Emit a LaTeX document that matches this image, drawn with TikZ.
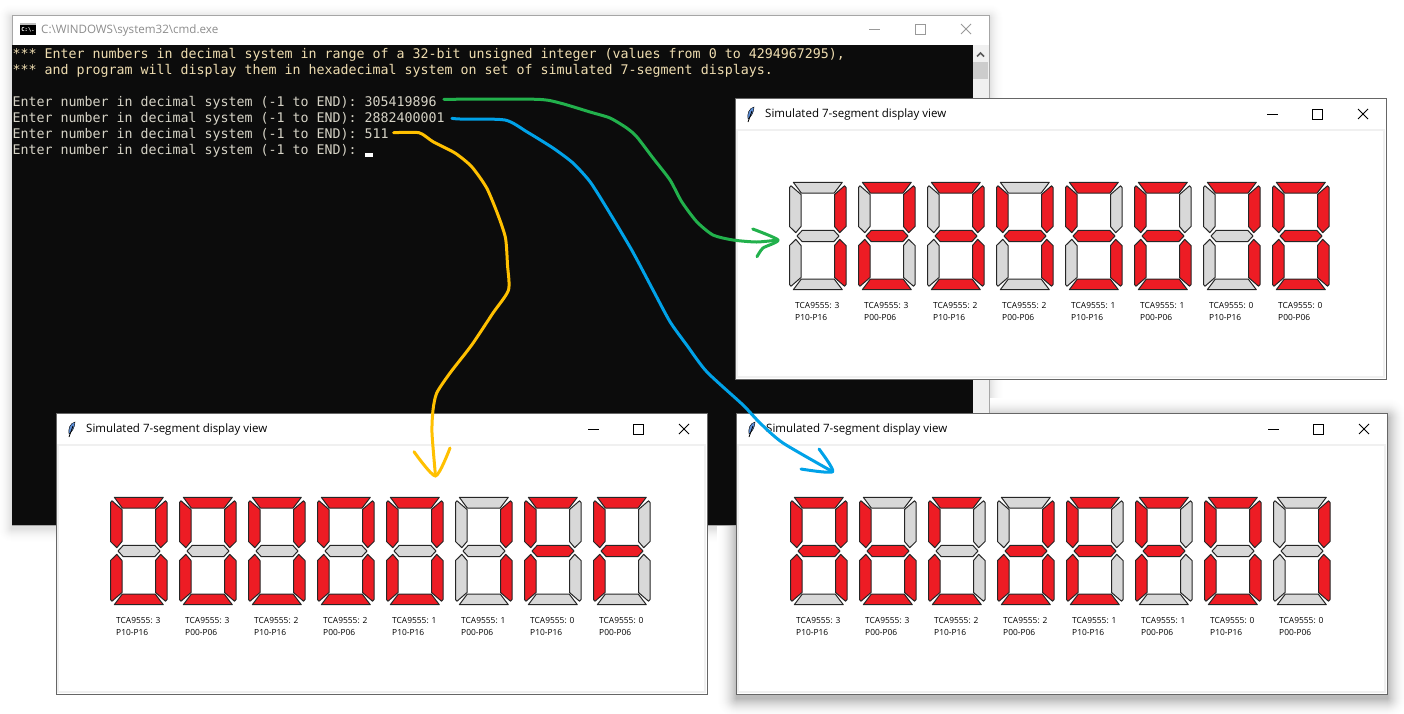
\documentclass[tikz,border=0pt]{standalone}
\usepackage{fontspec}
\setmainfont{Open Sans}
\newfontfamily\consolefont{DejaVu Sans Mono}
\usetikzlibrary{positioning}
\definecolor{segred}{HTML}{ED1C24}
\definecolor{seggrey}{HTML}{D8D8D8}
\definecolor{consoleblack}{HTML}{0C0C0C}
\definecolor{consoleamber}{HTML}{EFDDB0}
\definecolor{consolecream}{HTML}{D6D3C6}
\definecolor{penGreen}{HTML}{22B14C}
\definecolor{penBlue}{HTML}{00A2E8}
\definecolor{penYellow}{HTML}{FFC000}
\definecolor{feather}{HTML}{5B8DD6}
\tikzset{
  seg0/.style={draw=black!85, line width=1pt, line join=round, fill=seggrey},
  seg1/.style={draw=black!85, line width=1pt, line join=round, fill=segred},
  winbox/.style={draw=black!60, fill=white, line width=1pt, inner sep=0pt, anchor=north west},
  consoletext/.style={font=\consolefont\fontsize{13.29}{16}\selectfont, inner sep=0pt, anchor=base west},
  tinylabel/.style={font=\fontsize{8.4}{12}\selectfont, align=left, inner sep=0pt, anchor=north west},
  wintitle/.style={font=\fontsize{11.5}{14}\selectfont, inner sep=0pt, anchor=west},
  btn/.style={line width=1pt, draw=black},
  pen/.style={line width=3pt, line cap=round, line join=round},
}
% one digit, flags in order a b c d e f g
\newcommand{\segdigit}[7]{
  \path[seg#1] (4.3,0.3) -- (53.3,0.3) -- (45.2,11) -- (12.3,11) -- cycle;
  \path[seg#2] (57,5.5) -- (55.5,3.8) -- (45.5,12.5) -- (45.5,44.5) -- (50.7,50.7) -- (57,44.5) -- cycle;
  \path[seg#3] (57,102.5) -- (55.5,104.2) -- (45.5,95.5) -- (45.5,63.5) -- (50.7,57.3) -- (57,63.5) -- cycle;
  \path[seg#4] (4.3,107.7) -- (53.3,107.7) -- (45.2,97) -- (12.3,97) -- cycle;
  \path[seg#5] (0.5,102.5) -- (2,104.2) -- (12,95.5) -- (12,63.5) -- (6.8,57.3) -- (0.5,63.5) -- cycle;
  \path[seg#6] (0.5,5.5) -- (2,3.8) -- (12,12.5) -- (12,44.5) -- (6.8,50.7) -- (0.5,44.5) -- cycle;
  \path[seg#7] (8,54) -- (13.3,48.3) -- (44.7,48.3) -- (50,54) -- (44.7,59.7) -- (13.3,59.7) -- cycle;
}
\newcommand{\dZero}{\segdigit1111110}
\newcommand{\dOne}{\segdigit0110000}
\newcommand{\dTwo}{\segdigit1101101}
\newcommand{\dThree}{\segdigit1111001}
\newcommand{\dFour}{\segdigit0110011}
\newcommand{\dFive}{\segdigit1011011}
\newcommand{\dSix}{\segdigit1011111}
\newcommand{\dSeven}{\segdigit1110000}
\newcommand{\dEight}{\segdigit1111111}
\newcommand{\dA}{\segdigit1110111}
\newcommand{\dB}{\segdigit0011111}
\newcommand{\dC}{\segdigit1001110}
\newcommand{\dD}{\segdigit0111101}
\newcommand{\dE}{\segdigit1001111}
\newcommand{\dF}{\segdigit1000111}
% simulated display window: name, left, top, eight digits
\newcommand{\simwin}[3]{
  \begin{scope}[shift={(#2)}]
    \node[winbox, minimum width=650.5pt, minimum height=280.4pt] (#1win) at (-.8,-.8) {};
    \draw[draw=black!6, line width=2pt] (1,31) rectangle (648,278);
    \fill[feather, draw=black, line width=.4pt] (18,8) .. controls (13,9) and (11,15) .. (12,20) .. controls (15,18) and (18,13) .. (18,8) -- cycle;
    \draw[line width=.8pt] (16,12) -- (12,23);
    \node[wintitle] (#1title) at (29,16) {Simulated 7-segment display view};
    \draw[btn] (531,15) -- (542,15);
    \draw[btn] (576,10) rectangle (586,20);
    \draw[btn] (622,10) -- (632,20) (632,10) -- (622,20);
    \foreach \g/\chip/\port [count=\i from 0] in {#3}{
      \begin{scope}[shift={(53+69*\i,83)}]
        \g
      \end{scope}
      \node[tinylabel] (#1lab\i) at (59+69*\i,203) {TCA9555: \chip\\\port};
    }
  \end{scope}
}
\begin{document}
\begin{tikzpicture}[x=1pt,y=-1pt]
\useasboundingbox (0,0) rectangle (1404,713);
\fill[white] (0,0) rectangle (1404,713);

% soft shadows, outermost first
\foreach \r [evaluate=\r as \shade using 14*(1-\r/15)^2] in {14,...,1}
  \fill[black!\shade, rounded corners=\r pt] (12-\r,15-\r+3) rectangle (989+\r,525+\r+3);
\foreach \r [evaluate=\r as \shade using 30*(1-\r/21)^2] in {20,...,1}
  \fill[black!\shade, rounded corners=\r pt] (737-\r,414-\r+4) rectangle (1387+\r,694+\r+4);

% console window
\node[draw=black!35, fill=white, line width=1pt, inner sep=0pt, anchor=north west, minimum width=977pt, minimum height=510pt] (cmdwin) at (11.5,14.5) {};
\fill[consoleblack] (12,45) rectangle (973,525);
\fill[black!6] (973,45) rectangle (988.8,525);
\fill[black!20] (973,62) rectangle (988,79);
\draw[black!65, line width=1.6pt] (977,56.5) -- (980.5,53) -- (984,56.5);
\fill[black] (20,23) rectangle (36,35);
\fill[black!25] (20,23) rectangle (36,25);
\node[font=\consolefont\bfseries\fontsize{5.5}{6}\selectfont, text=white, inner sep=0pt] (cmdicon) at (28,30) {C:\textbackslash.};
\node[font=\fontsize{11.6}{14}\selectfont, text=black!45, inner sep=0pt, anchor=west] (cmdtitle) at (41,30) {C:\textbackslash WINDOWS\textbackslash system32\textbackslash cmd.exe};
\draw[black!40, line width=1pt] (869,29.5) -- (880,29.5);
\draw[black!40, line width=1pt] (915,24) rectangle (925,34);
\draw[black!40, line width=1pt] (961,24) -- (971,34) (971,24) -- (961,34);

\node[consoletext, text=consoleamber] (intro1) at (12.5,58) {*** Enter numbers in decimal system in range of a 32-bit unsigned integer (values from 0 to 4294967295),};
\node[consoletext, text=consoleamber] (intro2) at (12.5,74) {*** and program will display them in hexadecimal system on set of simulated 7-segment displays.};
\foreach \n/\yy in {1/106,2/122,3/138,4/154}
  \node[consoletext, text=consolecream] (ask\n) at (12.5,\yy) {Enter number in decimal system (-1 to END):};
\node[consoletext, text=consolecream] (valG) at (364.5,106) {305419896};
\node[consoletext, text=consolecream] (valB) at (364.5,122) {2882400001};
\node[consoletext, text=consolecream] (valY) at (364.5,138) {511};
\fill[white] (365,153) rectangle (373,156.7);

% display windows
\simwin{top}{736,99}{\dOne/3/P10-P16,\dTwo/3/P00-P06,\dThree/2/P10-P16,\dFour/2/P00-P06,\dFive/1/P10-P16,\dSix/1/P00-P06,\dSeven/0/P10-P16,\dEight/0/P00-P06}
\simwin{left}{57,414}{\dZero/3/P10-P16,\dZero/3/P00-P06,\dZero/2/P10-P16,\dZero/2/P00-P06,\dZero/1/P10-P16,\dOne/1/P00-P06,\dF/0/P10-P16,\dF/0/P00-P06}
\simwin{right}{737,414}{\dA/3/P10-P16,\dB/3/P00-P06,\dC/2/P10-P16,\dD/2/P00-P06,\dE/1/P10-P16,\dF/1/P00-P06,\dZero/0/P10-P16,\dOne/0/P00-P06}

% hand drawn arrows
\coordinate (tipG) at (778,240);
\coordinate (tipB) at (832.7,471.7);
\coordinate (tipY) at (435.5,476);
\draw[pen, penGreen] plot[smooth, tension=.4] coordinates {([shift={(7,-6.7)}]valG.base east) (536.7,99.3) (560,103) (590,112) (610,118) (626.7,128) (636.7,136.7) (653,158) (670,180) (681.7,201.7) (696.7,221.7) (713,235) (733,240) (756.7,242) (tipG)};
\draw[pen, penGreen] plot[smooth, tension=.4] coordinates {(752.7,229) (tipG) (763,248) (757,256.7)};
\draw[pen, penBlue] plot[smooth, tension=.4] coordinates {([shift={(7,-3.7)}]valB.base east) (460,119) (505,120) (526.7,131.7) (553,148) (573,163) (590,181.7) (606.7,208) (631.7,250) (653,290) (670,321.7) (686.7,345) (706.7,371.7) (743,405) (760,423) (783,443) (tipB)};
\draw[pen, penBlue] plot[smooth, tension=.4] coordinates {(819,449) (tipB) (801,469)};
\draw[pen, penYellow] plot[smooth, tension=.4] coordinates {([shift={(4.7,-5.3)}]valY.base east) (419,132.7) (433,141.7) (455,153) (471.7,166.7) (486.7,188) (498,215) (505.5,238) (507.5,265) (508.5,290) (493,313) (471.7,345) (450,373) (436.7,393) (433,410) (432,433) (tipY)};
\draw[pen, penYellow] plot[smooth, tension=.4] coordinates {(414,451.7) (tipY) (450,448)};
\end{tikzpicture}
\end{document}
